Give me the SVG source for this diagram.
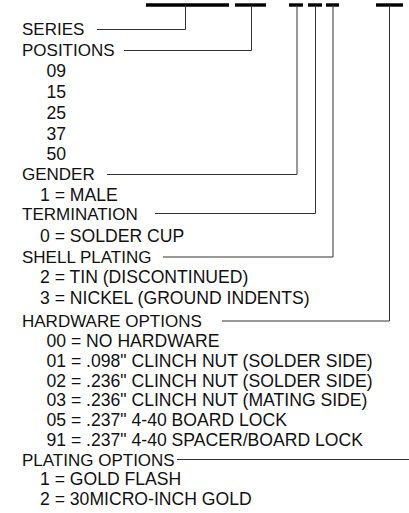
<svg xmlns="http://www.w3.org/2000/svg" width="409" height="513" viewBox="0 0 409 513">
<style>
text{font-family:"Liberation Sans",Arial,sans-serif;font-size:17px;fill:#111}
text.it{font-size:17.6px}
.bar{stroke:#000;stroke-width:3.4;fill:none}
.ln{stroke:#333;stroke-width:1;fill:none}
</style>
<rect width="409" height="513" fill="#fff"/>
<g id="bars">
<line class="bar" x1="146" y1="5" x2="229" y2="5"/>
<line class="bar" x1="235" y1="5" x2="266" y2="5"/>
<line class="bar" x1="289" y1="5" x2="303" y2="5"/>
<line class="bar" x1="308" y1="5" x2="322" y2="5"/>
<line class="bar" x1="326" y1="5" x2="339" y2="5"/>
<line class="bar" x1="376" y1="5" x2="403" y2="5"/>
</g>
<g id="connectors">
<path class="ln" d="M97 29.5H185.5V5"/>
<path class="ln" d="M124 50.5H251.5V5"/>
<path class="ln" d="M107 174.5H297V5"/>
<path class="ln" d="M155 213.5H315.5V5"/>
<path class="ln" d="M163 257H333V5"/>
<path class="ln" d="M222 321H389.5V5"/>
<path class="ln" d="M177 459.5H409"/>
</g>
<g id="series"><text x="22" y="35">SERIES</text></g>
<g id="positions"><text x="22" y="56">POSITIONS</text>
<text class="it" x="46.5" y="77">09</text>
<text class="it" x="46.5" y="98">15</text>
<text class="it" x="46.5" y="119">25</text>
<text class="it" x="46.5" y="139.5">37</text>
<text class="it" x="46.5" y="160">50</text></g>
<g id="gender"><text x="22" y="180">GENDER</text>
<text class="it" x="40" y="200.5">1 = MALE</text></g>
<g id="termination"><text x="22" y="219.5">TERMINATION</text>
<text class="it" x="40" y="242">0 = SOLDER CUP</text></g>
<g id="shell-plating"><text x="22" y="263">SHELL PLATING</text>
<text class="it" x="40" y="283">2 = TIN (DISCONTINUED)</text>
<text class="it" x="40" y="304">3 = NICKEL (GROUND INDENTS)</text></g>
<g id="hardware"><text x="22" y="327">HARDWARE OPTIONS</text>
<text class="it" x="46.5" y="346.5">00 = NO HARDWARE</text>
<text class="it" x="46.5" y="366.5">01 = .098" CLINCH NUT (SOLDER SIDE)</text>
<text class="it" x="46.5" y="386.5">02 = .236" CLINCH NUT (SOLDER SIDE)</text>
<text class="it" x="46.5" y="406">03 = .236" CLINCH NUT (MATING SIDE)</text>
<text class="it" x="46.5" y="426">05 = .237" 4-40 BOARD LOCK</text>
<text class="it" x="46.5" y="445.5">91 = .237" 4-40 SPACER/BOARD LOCK</text></g>
<g id="plating"><text x="22" y="465.5">PLATING OPTIONS</text>
<text class="it" x="40" y="485">1 = GOLD FLASH</text>
<text class="it" x="40" y="505">2 = 30MICRO-INCH GOLD</text></g>
</svg>
